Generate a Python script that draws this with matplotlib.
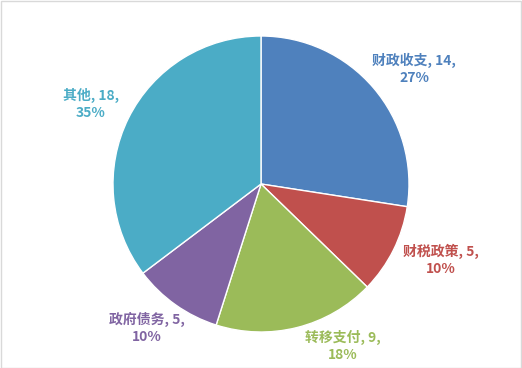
import matplotlib
matplotlib.use("Agg")
import matplotlib.pyplot as plt
from matplotlib.patches import Rectangle

plt.rcParams['font.family'] = ['Noto Sans CJK SC', 'DejaVu Sans']

categories = ['财政收支', '财税政策', '转移支付', '政府债务', '其他']
values = [14, 5, 9, 5, 18]
percents = ['27%', '10%', '18%', '10%', '35%']
colors = ['#4F81BD', '#C0504D', '#9BBB59', '#8064A2', '#4BACC6']

# label centres (pixel coords, y from top)
label_pos = [(414, 69), (441, 260), (343, 346), (147, 328), (91, 104)]

W, H = 522, 368
fig = plt.figure(figsize=(W / 100, H / 100), dpi=100)
ax = fig.add_axes([0, 0, 1, 1])

ax.pie(values, colors=colors, startangle=90, counterclock=False,
       center=(261, H - 184), radius=148,
       wedgeprops=dict(edgecolor='white', linewidth=1.0))

ax.set_xlim(0, W)
ax.set_ylim(0, H)
ax.set_aspect('equal')
ax.axis('off')

for cat, v, p, c, (x, y) in zip(categories, values, percents, colors, label_pos):
    ax.text(x, H - y, f'{cat}, {v},\n{p}', ha='center', va='center',
            color=c, fontsize=10, fontweight='bold', linespacing=1.25)

fig.patches.append(Rectangle((0.5 / W, 0.5 / H), 1 - 1.5 / W, 1 - 1.5 / H,
                             transform=fig.transFigure, fill=False,
                             edgecolor='#D9D9D9', linewidth=1))

fig.savefig('out.png', dpi=100, facecolor='white')
